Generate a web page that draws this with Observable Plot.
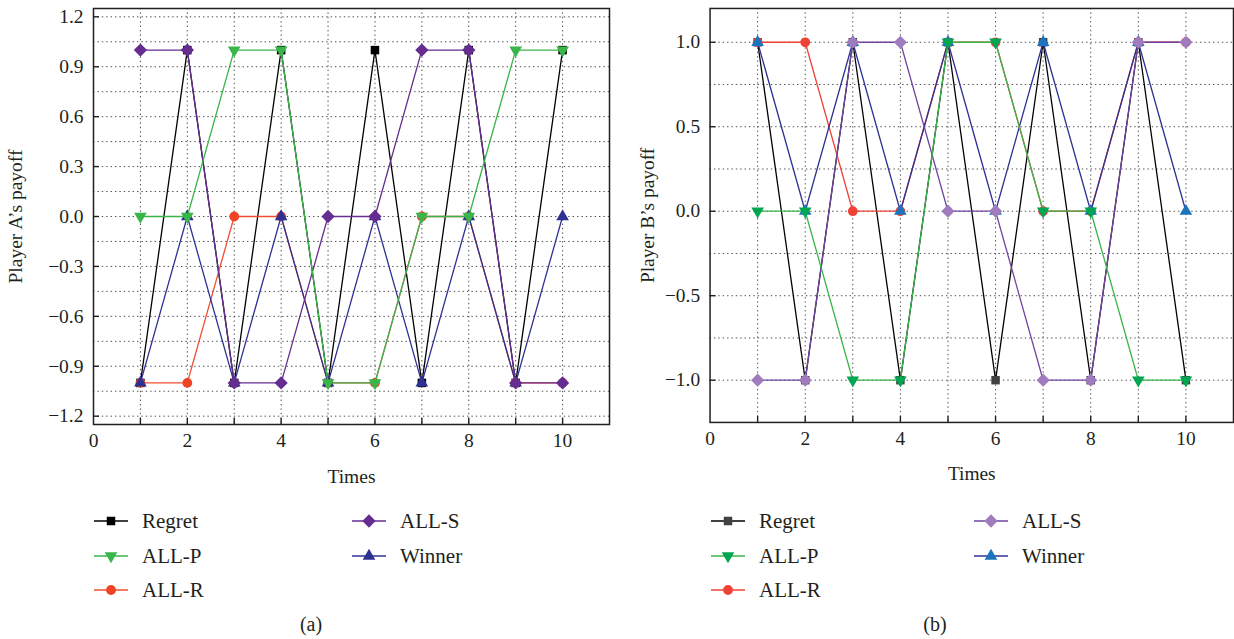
<!DOCTYPE html>
<html><head><meta charset="utf-8">
<script src="https://cdn.jsdelivr.net/npm/d3@7"></script>
<script src="https://cdn.jsdelivr.net/npm/@observablehq/plot@0.6"></script>
<style>
html,body{margin:0;padding:0;background:#fff;overflow:hidden;width:1234px;height:639px;}
#root{position:relative;width:1234px;height:639px;overflow:hidden;font-family:"Liberation Serif",serif;}
.panel{position:absolute;top:0;}
.legend{position:absolute;top:500px;}
</style></head><body><div id="root"></div>
<script>
// ---------- data ----------
const times = [1, 2, 3, 4, 5, 6, 7, 8, 9, 10];
const seriesNames = ["Regret", "ALL-P", "ALL-R", "ALL-S", "Winner"];
const drawOrder = ["Regret", "ALL-R", "Winner", "ALL-S", "ALL-P"];

// Panel (a): Player A's payoff
const regretA = [-1, 1, -1, 1, -1, 1, -1, 1, -1, 1];
const allPA   = [0, 0, 1, 1, -1, -1, 0, 0, 1, 1];
const allRA   = [-1, -1, 0, 0, -1, -1, 0, 0, -1, -1];
const allSA   = [1, 1, -1, -1, 0, 0, 1, 1, -1, -1];
const winnerA = [-1, 0, -1, 0, -1, 0, -1, 0, -1, 0];

// Panel (b): Player B's payoff
const regretB = [1, -1, 1, -1, 1, -1, 1, -1, 1, -1];
const allPB   = [0, 0, -1, -1, 1, 1, 0, 0, -1, -1];
const allRB   = [1, 1, 0, 0, 1, 1, 0, 0, 1, 1];
const allSB   = [-1, -1, 1, 1, 0, 0, -1, -1, 1, 1];
const winnerB = [1, 0, 1, 0, 1, 0, 1, 0, 1, 0];

// ticks
const xTickLabels = [0, 2, 4, 6, 8, 10];
const xMinorTicks = [1, 2, 3, 4, 5, 6, 7, 8, 9, 10];
const yTicksA = [-1.2, -0.9, -0.6, -0.3, 0, 0.3, 0.6, 0.9, 1.2];
const yGridA  = [-1.2, -1.05, -0.9, -0.75, -0.6, -0.45, -0.3, -0.15, 0, 0.15, 0.3, 0.45, 0.6, 0.75, 0.9, 1.05, 1.2];
const yTicksB = [-1, -0.5, 0, 0.5, 1];
const yGridB  = [-1, -0.75, -0.5, -0.25, 0, 0.25, 0.5, 0.75, 1];

// ---------- styles ----------
const FONT = "Liberation Serif";
const TEXT = "#231f20";
const symbolOf = {
  "Regret": {symbol: "square", r: 4.8, rotate: 0},
  "ALL-P":  {symbol: "triangle", r: 4.7, rotate: 180},
  "ALL-R":  {symbol: "circle", r: 4.9, rotate: 0},
  "ALL-S":  {symbol: "square", r: 5.3, rotate: 45},
  "Winner": {symbol: "triangle", r: 4.7, rotate: 0}
};
const stylesA = {
  "Regret": {line: "#000000", mark: "#000000"},
  "ALL-P":  {line: "#39b54a", mark: "#39b54a"},
  "ALL-R":  {line: "#f04e30", mark: "#ef4423"},
  "ALL-S":  {line: "#662d91", mark: "#662d91"},
  "Winner": {line: "#2e3192", mark: "#2e3192"}
};
const stylesB = {
  "Regret": {line: "#000000", mark: "#414042"},
  "ALL-P":  {line: "#39b54a", mark: "#00a651"},
  "ALL-R":  {line: "#ef4136", mark: "#ef4136"},
  "ALL-S":  {line: "#6f45a0", mark: "#a07cbf"},
  "Winner": {line: "#2e3192", mark: "#1c75bc"}
};

function makePanel(cfg) {
  const W = 620, H = 500, mT = 8, mB = 76, mL = 93, mR = cfg.marginRight;
  const plotW = W - mL - mR, plotH = H - mT - mB;
  const rows = [];
  seriesNames.forEach((name, k) => cfg.values[k].forEach((v, i) => rows.push({series: name, t: times[i], v})));
  const grid = {stroke: "#4d4d4f", strokeOpacity: 1, strokeWidth: 1, strokeDasharray: "1.4,3"};
  const marks = [
    Plot.gridX(xMinorTicks, grid),
    Plot.gridY(cfg.yGrid, grid),
    Plot.tickX(xMinorTicks, {x: d => d, insetTop: plotH - 6, stroke: TEXT, strokeWidth: 1.4}),
    Plot.tickY(cfg.yTicks, {y: d => d, insetRight: plotW - 6, stroke: TEXT, strokeWidth: 1.4}),
    Plot.axisX(xTickLabels, {tickSize: 0, tickPadding: 9, tickFormat: d => String(d), label: "Times", labelAnchor: "center", labelOffset: 58, labelArrow: "none", fill: TEXT}),
    Plot.axisY(cfg.yTicks, {tickSize: 0, tickPadding: 10, tickFormat: d3.format(".1f"), label: cfg.yLabel, labelAnchor: "center", labelOffset: cfg.yLabelOffset, labelArrow: "none", fill: TEXT})
  ];
  for (const name of drawOrder) {
    const d = rows.filter(r => r.series === name);
    const st = cfg.styles[name], sy = symbolOf[name];
    marks.push(Plot.line(d, {x: "t", y: "v", stroke: st.line, strokeWidth: 1.3}));
    marks.push(Plot.dot(d, {x: "t", y: "v", symbol: sy.symbol, r: sy.r, rotate: sy.rotate, fill: st.mark, stroke: "none"}));
  }
  marks.push(Plot.frame({stroke: TEXT, strokeWidth: 1.5}));
  return Plot.plot({
    width: W, height: H,
    marginTop: mT, marginBottom: mB, marginLeft: mL, marginRight: mR,
    x: {domain: [0, 11]},
    y: {domain: cfg.yDomain},
    style: {fontFamily: FONT, fontSize: "19.5px", color: TEXT, background: "transparent", overflow: "visible"},
    marks
  });
}

function makeLegend(cfg) {
  const svg = d3.create("svg").attr("width", 620).attr("height", 139)
    .style("font-family", FONT).style("overflow", "visible");
  const layout = [
    {name: "Regret", col: 0, row: 0},
    {name: "ALL-P", col: 0, row: 1},
    {name: "ALL-R", col: 0, row: 2},
    {name: "ALL-S", col: 1, row: 0},
    {name: "Winner", col: 1, row: 1}
  ];
  const colX = cfg.colX, rowY = [21, 56, 90];
  const symMap = {square: d3.symbolSquare, triangle: d3.symbolTriangle, circle: d3.symbolCircle};
  for (const it of layout) {
    const x0 = colX[it.col], y0 = rowY[it.row];
    const st = cfg.styles[it.name], sy = symbolOf[it.name];
    svg.append("line").attr("x1", x0).attr("x2", x0 + 34).attr("y1", y0).attr("y2", y0)
      .attr("stroke", st.line).attr("stroke-width", 1.3);
    svg.append("path").attr("d", d3.symbol(symMap[sy.symbol], Math.PI * sy.r * sy.r)())
      .attr("transform", `translate(${x0 + 17},${y0}) rotate(${sy.rotate})`).attr("fill", st.mark);
    svg.append("text").attr("x", x0 + 48).attr("y", y0 + 7).attr("font-size", 21).attr("fill", TEXT).text(it.name);
  }
  svg.append("text").attr("x", cfg.captionX).attr("y", 131).attr("text-anchor", "middle")
    .attr("font-size", 20).attr("fill", TEXT).text(cfg.caption);
  return svg.node();
}

const root = document.getElementById("root");
function place(node, cls, left) {
  const div = document.createElement("div");
  div.className = cls; div.style.left = left + "px";
  div.appendChild(node); root.appendChild(div);
}

place(makePanel({
  values: [regretA, allPA, allRA, allSA, winnerA],
  styles: stylesA, yDomain: [-1.25, 1.25], yTicks: yTicksA, yGrid: yGridA,
  yLabel: "Player A’s payoff", yLabelOffset: 85, marginRight: 11
}), "panel", 0);
place(makeLegend({styles: stylesA, colX: [94, 352], caption: "(a)", captionX: 311}), "legend", 0);

place(makePanel({
  values: [regretB, allPB, allRB, allSB, winnerB],
  styles: stylesB, yDomain: [-1.25, 1.2], yTicks: yTicksB, yGrid: yGridB,
  yLabel: "Player B’s payoff", yLabelOffset: 70, marginRight: 1
}), "panel", 617);
place(makeLegend({styles: stylesB, colX: [94, 357], caption: "(b)", captionX: 318}), "legend", 617);
</script></body></html>
